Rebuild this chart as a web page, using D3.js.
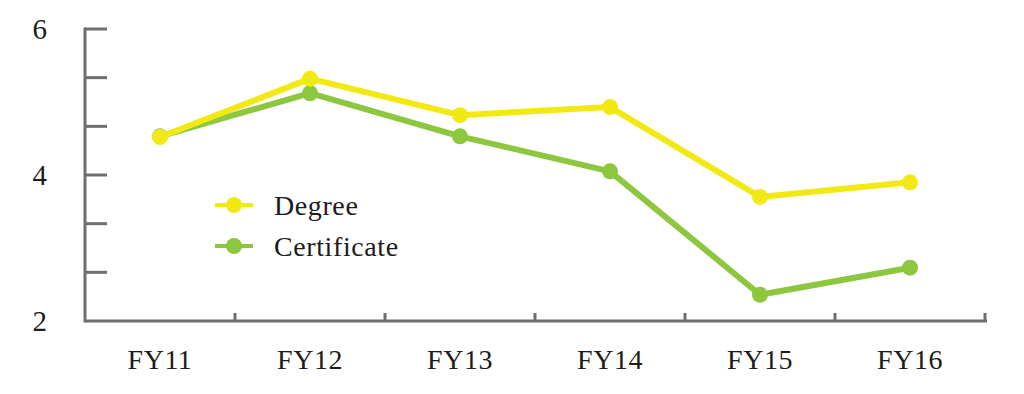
<!DOCTYPE html>
<html>
<head>
<meta charset="utf-8">
<script src="https://cdn.jsdelivr.net/npm/d3@7"></script>
<style>
  body { margin: 0; background: #fff; }
  text { font-family: "Liberation Serif", "DejaVu Serif", serif; fill: #1e1b1c; }
</style>
</head>
<body>
<div id="chart"></div>
<script>
// data
const years = ['FY11', 'FY12', 'FY13', 'FY14', 'FY15', 'FY16'];
const degree = [4.52, 5.32, 4.82, 4.93, 3.70, 3.90];
const certificate = [4.53, 5.12, 4.53, 4.05, 2.36, 2.73];
const yLabels = [2, 4, 6];
const seriesNames = ['Degree', 'Certificate'];
const colors = ['#f2e813', '#8dc63f'];

var width = 1024,
    height = 394;

var x = d3.scaleBand()
  .domain(years)
  .range([85, 985]);

var y = d3.scaleLinear()
  .domain([2, 6])
  .range([321, 29]);

var svg = d3.select('#chart')
  .append('svg')
    .attr('width', width)
    .attr('height', height);

var axisColor = '#6d6e71';

// y axis: line plus inward ticks every 2/3
var yTicks = d3.range(0, 7).map(function(i) { return 2 + i * 4 / 6; });
svg.append('line')
  .attr('x1', 85).attr('x2', 85)
  .attr('y1', y(6) - 1.5).attr('y2', y(2) + 1.5)
  .attr('stroke', axisColor).attr('stroke-width', 3);
svg.selectAll('.ytick')
  .data(yTicks.slice(1))
  .enter().append('line')
    .attr('x1', 85).attr('x2', 107)
    .attr('y1', function(d) { return y(d); })
    .attr('y2', function(d) { return y(d); })
    .attr('stroke', axisColor).attr('stroke-width', 3);
svg.selectAll('.ylab')
  .data(yLabels)
  .enter().append('text')
    .attr('x', 47)
    .attr('y', function(d) { return y(d) + 10; })
    .attr('text-anchor', 'end')
    .style('font-size', '29px')
    .text(function(d) { return d; });

// x axis: line plus upward ticks at band edges
svg.append('line')
  .attr('x1', 85).attr('x2', 987)
  .attr('y1', y(2)).attr('y2', y(2))
  .attr('stroke', axisColor).attr('stroke-width', 3);
svg.selectAll('.xtick')
  .data(years)
  .enter().append('line')
    .attr('x1', function(d) { return x(d) + x.bandwidth(); })
    .attr('x2', function(d) { return x(d) + x.bandwidth(); })
    .attr('y1', y(2)).attr('y2', y(2) - 8)
    .attr('stroke', axisColor).attr('stroke-width', 3);
svg.selectAll('.xlab')
  .data(years)
  .enter().append('text')
    .attr('x', function(d) { return x(d) + x.bandwidth() / 2; })
    .attr('y', 369)
    .attr('text-anchor', 'middle')
    .style('font-size', '28px')
    .style('letter-spacing', '0.5px')
    .text(function(d) { return d; });

// lines and markers, certificate first so degree sits on top
var line = d3.line()
  .x(function(d, i) { return x(years[i]) + x.bandwidth() / 2; })
  .y(function(d) { return y(d); });

[certificate, degree].forEach(function(vals, k) {
  var col = k == 0 ? colors[1] : colors[0];
  svg.append('path')
    .attr('d', line(vals))
    .attr('fill', 'none')
    .attr('stroke', col)
    .attr('stroke-width', 6)
    .attr('stroke-linejoin', 'round');
  svg.selectAll('.pt' + k)
    .data(vals)
    .enter().append('circle')
      .attr('cx', function(d, i) { return x(years[i]) + x.bandwidth() / 2; })
      .attr('cy', function(d) { return y(d); })
      .attr('r', 8)
      .attr('fill', col);
});

// legend
var legend = svg.selectAll('.leg')
  .data(seriesNames)
  .enter().append('g')
    .attr('transform', function(d, i) { return 'translate(215,' + (205 + i * 41) + ')'; });
legend.append('line')
  .attr('x1', 0).attr('x2', 38)
  .attr('stroke', function(d, i) { return colors[i]; })
  .attr('stroke-width', 4);
legend.append('circle')
  .attr('cx', 19).attr('r', 8)
  .attr('fill', function(d, i) { return colors[i]; });
legend.append('text')
  .attr('x', 59).attr('y', 10)
  .style('font-size', '28px')
  .style('letter-spacing', '0.6px')
  .text(function(d) { return d; });
</script>
</body>
</html>
